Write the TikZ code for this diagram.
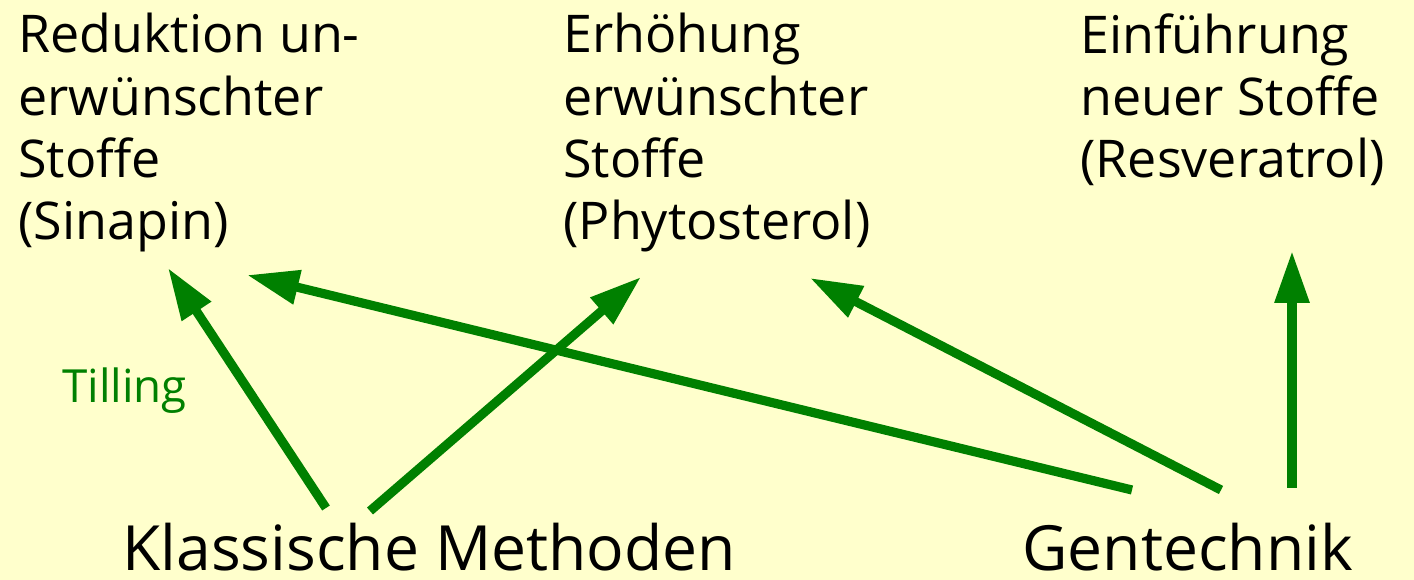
\documentclass[tikz,border=0pt]{standalone}
\usepackage{fontspec}
\setmainfont{Open Sans}
\usetikzlibrary{arrows.meta}
\definecolor{bg}{HTML}{FFFFCC}
\definecolor{grn}{HTML}{008000}
\tikzset{
  goal/.style={anchor=north west, align=left, inner sep=0pt, font=\fontsize{29.6}{35.5}\selectfont},
  src/.style={anchor=base west, inner sep=0pt, text depth=0pt, font=\fontsize{35.5}{40}\selectfont},
  lbl/.style={anchor=base west, inner sep=0pt, text=grn, font=\fontsize{26}{30}\selectfont},
  arr/.style={draw=grn, line width=5.2pt, -{Triangle[length=1.04cm,width=0.66cm]}, fill=grn}
}
\begin{document}
\begin{tikzpicture}[x=0.02cm,y=-0.02cm]
\fill[bg] (0,0) rectangle (1414,580);
\useasboundingbox (0,0) rectangle (1414,580);
\node[goal] (g1) at (18,13) {Reduktion un-\\erwünschter\\Stoffe\\(Sinapin)};
\node[goal] (g2) at (563,13) {Erhöhung\\erwünschter\\Stoffe\\(Phytosterol)};
\node[goal] (g3) at (1080,13) {Einführung\\neuer Stoffe\\(Resveratrol)};
\node[src] (km) at (122,571) {Klassische Methoden};
\node[src] (gt) at (1022,571) {Gentechnik};
\node[lbl] (till) at (62,403) {Tilling};
% arrow end points
\coordinate (k1) at (326,508);
\coordinate (k2) at (370,511);
\coordinate (t1) at (1132,490);
\coordinate (t2) at (1221,490);
\coordinate (t3) at (1292,488);
\coordinate (h1) at (168,268);
\coordinate (h2) at (641,277);
\coordinate (h3) at (247,275);
\coordinate (h4) at (810,278);
\coordinate (h5) at (1292,251);
\draw[arr] (k1) -- (h1);
\draw[arr] (k2) -- (h2);
\draw[arr] (t1) -- (h3);
\draw[arr] (t2) -- (h4);
\draw[arr] (t3) -- (h5);
\end{tikzpicture}
\end{document}
